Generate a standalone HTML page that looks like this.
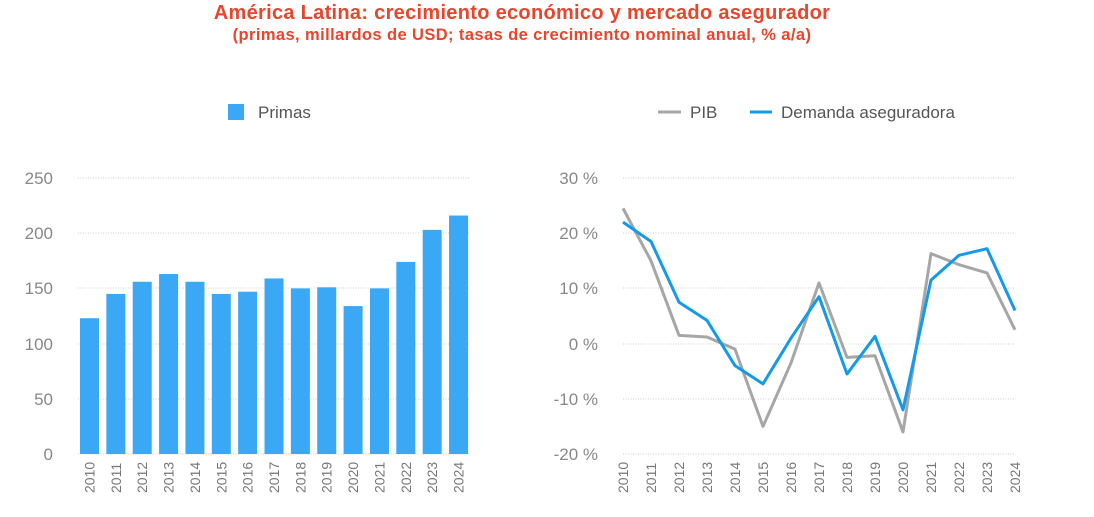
<!DOCTYPE html>
<html><head><meta charset="utf-8"><style>
body{margin:0;background:#fff;width:1094px;height:512px;overflow:hidden;font-family:"Liberation Sans",sans-serif}
</style></head><body>
<svg width="1094" height="512" xmlns="http://www.w3.org/2000/svg" font-family="Liberation Sans, sans-serif">
<text x="522" y="19" text-anchor="middle" font-size="20" font-weight="bold" fill="#e8452c" letter-spacing="0.3">América Latina: crecimiento económico y mercado asegurador</text>
<text x="522" y="40" text-anchor="middle" font-size="16.5" font-weight="bold" fill="#e8452c" letter-spacing="0.4">(primas, millardos de USD; tasas de crecimiento nominal anual, % a/a)</text>
<rect x="228" y="104" width="16" height="16" fill="#3aa8f5"/>
<text x="258" y="118" font-size="17" fill="#555">Primas</text>
<line x1="658" y1="112" x2="681" y2="112" stroke="#a6a6a6" stroke-width="3"/>
<text x="690" y="118" font-size="17" fill="#555">PIB</text>
<line x1="750" y1="112" x2="772" y2="112" stroke="#139ae8" stroke-width="3"/>
<text x="781" y="118" font-size="17" fill="#555">Demanda aseguradora</text>
<g stroke="#ccc" stroke-dasharray="1,1.5" stroke-width="1">
<line x1="78" y1="178" x2="469" y2="178"/><line x1="78" y1="233" x2="469" y2="233"/><line x1="78" y1="288" x2="469" y2="288"/><line x1="78" y1="344" x2="469" y2="344"/><line x1="78" y1="399" x2="469" y2="399"/><line x1="78" y1="454" x2="469" y2="454"/>
<line x1="623" y1="178" x2="1015" y2="178"/><line x1="623" y1="233" x2="1015" y2="233"/><line x1="623" y1="288" x2="1015" y2="288"/><line x1="623" y1="344" x2="1015" y2="344"/><line x1="623" y1="399" x2="1015" y2="399"/><line x1="623" y1="454" x2="1015" y2="454"/>
</g>
<g font-size="17" fill="#888" text-anchor="end">
<text x="53" y="184">250</text><text x="53" y="239">200</text><text x="53" y="294">150</text><text x="53" y="350">100</text><text x="53" y="405">50</text><text x="53" y="460">0</text>
<text x="598" y="184">30 %</text><text x="598" y="239">20 %</text><text x="598" y="294">10 %</text><text x="598" y="350">0 %</text><text x="598" y="405">-10 %</text><text x="598" y="460">-20 %</text>
</g>
<g id="bars" fill="#3aa8f5"></g>
<g id="yrs" font-size="14" fill="#777"></g>
<polyline id="pib" fill="none" stroke="#a6a6a6" stroke-width="3" stroke-linejoin="round"/>
<polyline id="dem" fill="none" stroke="#139ae8" stroke-width="3" stroke-linejoin="round"/>
</svg>
<script>
var ns="http://www.w3.org/2000/svg";
var v=[123,145,156,163,156,145,147,159,150,151,134,150,174,203,216];
var b=[22,18.5,7.5,4.2,-4,-7.3,1,8.5,-5.5,1.3,-12,11.5,16,17.2,6];
var g=[24.5,15,1.5,1.2,-1,-15,-3.5,11,-2.5,-2.2,-16,16.3,14.3,12.8,2.5];
var bars=document.getElementById('bars'),yrs=document.getElementById('yrs');
var pp=[],dp=[];
for(var i=0;i<15;i++){
 var x=80+i*26.36,h=v[i]*1.104;
 var r=document.createElementNS(ns,'rect');r.setAttribute('x',x);r.setAttribute('y',454-h);r.setAttribute('width',19);r.setAttribute('height',h);bars.appendChild(r);
 var cx=x+9.5;
 [cx,623+i*28].forEach(function(xx){var t=document.createElementNS(ns,'text');t.setAttribute('transform','translate('+(xx+5)+',493) rotate(-90)');t.textContent=2010+i;yrs.appendChild(t);});
 var px=623+i*28;
 pp.push(px+','+(343.6-g[i]*5.52));dp.push(px+','+(343.6-b[i]*5.52));
}
document.getElementById('pib').setAttribute('points',pp.join(' '));
document.getElementById('dem').setAttribute('points',dp.join(' '));
</script>
</body></html>
